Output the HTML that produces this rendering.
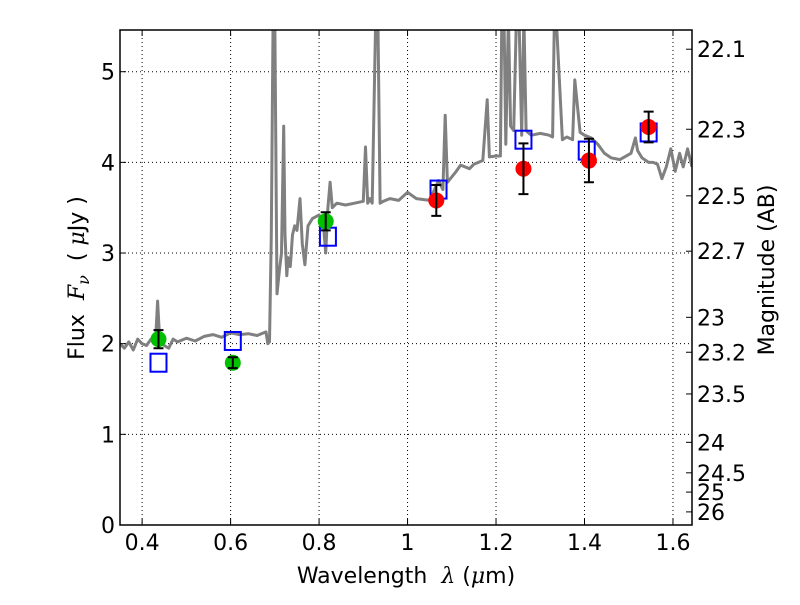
<!DOCTYPE html>
<html><head><meta charset="utf-8"><style>
html,body{margin:0;padding:0;background:#fff;}
svg text{font-family:"DejaVu Sans","Liberation Sans",sans-serif;white-space:pre;}
</style></head><body>
<svg id="chart" width="800" height="600" xmlns="http://www.w3.org/2000/svg"></svg>
<script>
const xTicks=[0.4,0.6,0.8,1.0,1.2,1.4,1.6];
const xTickLabels=["0.4","0.6","0.8","1","1.2","1.4","1.6"];
const yTicks=[0,1,2,3,4,5];
const magTicks=[22.1,22.3,22.5,22.7,23,23.2,23.5,24,24.5,25,26];
const specWave=[0.35,0.36,0.37,0.38,0.39,0.40,0.41,0.42,0.43,0.435,0.44,0.45,0.46,0.47,0.48,0.50,0.52,0.54,0.56,0.58,0.60,0.62,0.64,0.66,0.68,0.684,0.688,0.692,0.696,0.70,0.705,0.71,0.715,0.72,0.723,0.727,0.73,0.735,0.74,0.745,0.75,0.757,0.762,0.768,0.775,0.785,0.80,0.81,0.815,0.82,0.825,0.83,0.84,0.86,0.88,0.90,0.905,0.91,0.915,0.92,0.928,0.933,0.938,0.945,0.96,0.98,1.0,1.02,1.05,1.07,1.08,1.085,1.09,1.11,1.12,1.14,1.15,1.17,1.18,1.185,1.20,1.21,1.213,1.218,1.222,1.228,1.233,1.24,1.246,1.252,1.258,1.263,1.268,1.272,1.28,1.30,1.32,1.328,1.332,1.336,1.35,1.36,1.373,1.378,1.39,1.40,1.415,1.43,1.445,1.46,1.48,1.505,1.515,1.52,1.53,1.545,1.555,1.565,1.575,1.585,1.595,1.605,1.615,1.623,1.633,1.643];
const specFlux=[2.0,1.95,2.02,1.93,2.05,2.0,1.98,2.05,2.0,2.47,2.02,1.98,1.95,2.05,2.02,2.06,2.03,2.08,2.1,2.07,2.12,2.1,2.11,2.09,2.13,2.0,2.02,3.2,5.6,5.6,2.55,2.8,3.0,4.4,3.2,2.75,2.95,2.85,3.2,3.3,3.25,3.6,3.1,2.87,3.3,3.38,3.42,3.3,3.0,3.5,3.78,3.5,3.55,3.53,3.55,3.57,4.17,3.55,3.6,3.55,5.6,5.6,3.55,3.57,3.6,3.58,3.67,3.6,3.58,3.8,3.7,4.52,3.78,3.9,3.97,3.93,3.98,4.02,4.69,4.06,4.07,4.07,5.6,5.6,4.2,5.6,4.4,4.35,5.6,5.6,4.3,5.6,4.35,4.33,4.3,4.32,4.3,4.28,5.6,5.6,4.25,4.28,4.25,4.91,4.33,4.3,4.27,4.2,4.1,4.05,4.03,4.1,4.27,4.13,4.05,4.0,4.0,3.98,3.82,3.95,4.15,3.9,4.1,3.95,4.15,3.95,4.13];
const photWave=[0.437,0.605,0.815];
const photFlux=[2.05,1.79,3.35];
const photErr=[0.1,0.06,0.1];
const nirWave=[1.065,1.262,1.41,1.545];
const nirFlux=[3.58,3.93,4.02,4.39];
const nirErr=[0.17,0.28,0.24,0.17];
const modelWave=[0.437,0.605,0.82,1.07,1.262,1.405,1.545];
const modelFlux=[1.79,2.03,3.18,3.7,4.25,4.13,4.33];

const L=120,R=692,T=30,B=525,XMIN=0.35,XMAX=1.643,YMIN=0,YMAX=5.46;
const sx=v=>L+(v-XMIN)/(XMAX-XMIN)*(R-L);
const sy=v=>B-(v-YMIN)/(YMAX-YMIN)*(B-T);
const NS="http://www.w3.org/2000/svg";
const svg=document.getElementById('chart');
function mk(tag,attrs,parent){const e=document.createElementNS(NS,tag);for(const k in attrs)e.setAttribute(k,attrs[k]);(parent||svg).appendChild(e);return e;}
const defs=mk('defs',{});const cp=mk('clipPath',{id:'clip'},defs);mk('rect',{x:L,y:T,width:R-L,height:B-T},cp);

xTicks.forEach(v=>{const g=mk('line',{x1:sx(v),x2:sx(v),y1:T,y2:B,stroke:'#000','stroke-width':1,'stroke-dasharray':'1,3'});

});
yTicks.forEach(v=>{const g=mk('line',{x1:L,x2:R,y1:sy(v),y2:sy(v),stroke:'#000','stroke-width':1,'stroke-dasharray':'1,3'});

});

let d='';specWave.forEach((w,i)=>{d+=(i?'L':'M')+sx(w).toFixed(1)+','+sy(specFlux[i]).toFixed(1);});
const sp=mk('path',{d:d,fill:'none',stroke:'#808080','stroke-width':3,'clip-path':'url(#clip)','stroke-linejoin':'round'});



modelWave.forEach((w,i)=>{const s=mk('rect',{x:sx(w)-8,y:sy(modelFlux[i])-9,width:16,height:18,fill:'none',stroke:'#0000ff','stroke-width':2});

});

function pts(ws,fs,es,col,name){ws.forEach((w,i)=>{const x=sx(w),y=sy(fs[i]);
const c=mk('circle',{cx:x,cy:y,r:8,fill:col});


const y1=sy(fs[i]+es[i]),y2=sy(fs[i]-es[i]);
const eb=mk('path',{d:`M${x},${y1}L${x},${y2}M${x-5},${y1}L${x+5},${y1}M${x-5},${y2}L${x+5},${y2}`,stroke:'#000','stroke-width':2,fill:'none'});

});}
pts(photWave,photFlux,photErr,'#00c000','optical');
pts(nirWave,nirFlux,nirErr,'#ff0000','nir');

const fr=mk('rect',{x:L,y:T,width:R-L,height:B-T,fill:'none',stroke:'#000','stroke-width':1.5});



xTicks.forEach((v,i)=>{const x=sx(v);
mk('line',{x1:x,x2:x,y1:B,y2:B-6,stroke:'#000'});mk('line',{x1:x,x2:x,y1:T,y2:T+6,stroke:'#000'});
const t=mk('text',{x:x,y:B+25,'font-size':22,'text-anchor':'middle'});t.textContent=xTickLabels[i];

});
yTicks.forEach(v=>{const y=sy(v);mk('line',{x1:L,x2:L+6,y1:y,y2:y,stroke:'#000'});
const t=mk('text',{x:L-5,y:y+8,'font-size':22,'text-anchor':'end'});t.textContent=String(v);

});
magTicks.forEach(m=>{const f=Math.pow(10,(23.9-m)/2.5);const y=sy(f);
mk('line',{x1:R,x2:R-6,y1:y,y2:y,stroke:'#000'});
const t=mk('text',{x:R+5,y:y+8,'font-size':22});t.textContent=String(m);

});

const xl=mk('text',{x:406,y:583,'font-size':22,'text-anchor':'middle'});
xl.innerHTML='Wavelength  <tspan font-family="DejaVu Serif" font-style="italic">λ</tspan> (<tspan font-family="DejaVu Serif" font-style="italic">μ</tspan>m)';


const yl=mk('text',{x:0,y:0,'font-size':22,'text-anchor':'middle',transform:'translate(84,278) rotate(-90)'});
yl.innerHTML='Flux  <tspan font-family="DejaVu Serif" font-style="italic">F</tspan><tspan font-family="DejaVu Serif" font-style="italic" font-size="16" dy="5">ν</tspan><tspan dy="-5">  ( </tspan><tspan font-family="DejaVu Serif" font-style="italic">μ</tspan>Jy )';


const rl=mk('text',{x:0,y:0,'font-size':22,'text-anchor':'middle',transform:'translate(774,270) rotate(-90)'});
rl.textContent='Magnitude (AB)';


</script>
</body></html>
